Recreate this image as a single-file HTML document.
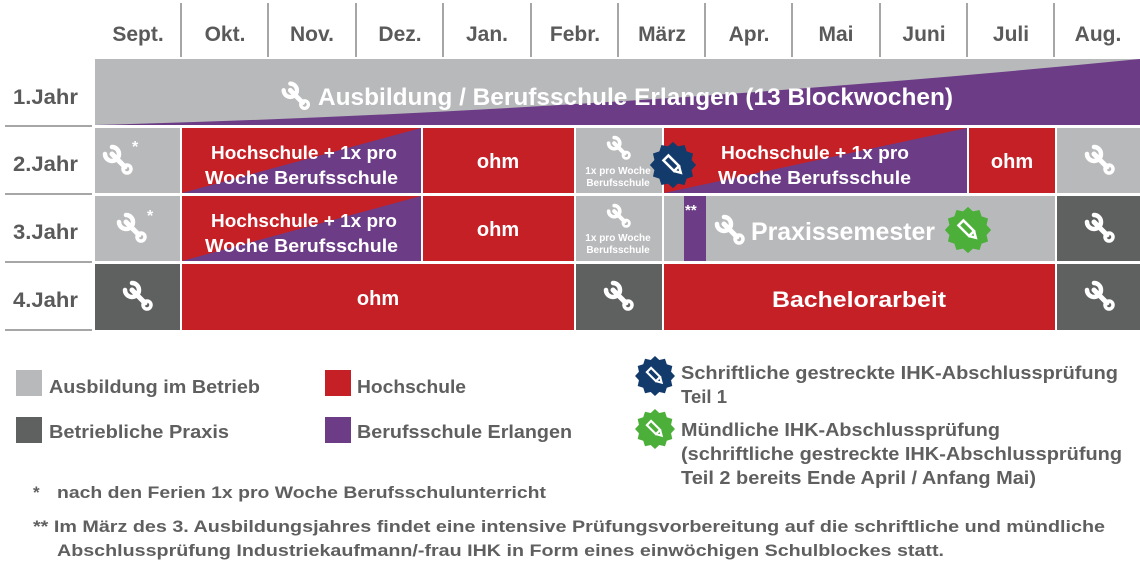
<!DOCTYPE html>
<html><head><meta charset="utf-8"><style>
html,body{margin:0;padding:0;background:#fff;}
svg{display:block;font-family:"Liberation Sans",sans-serif;font-weight:bold;}
</style></head><body>
<svg width="1140" height="580" viewBox="0 0 1140 580" xmlns="http://www.w3.org/2000/svg">
<defs>
<g id="w"><g stroke="#fff" fill="none" stroke-linecap="round"><line x1="-6" y1="-6" x2="7" y2="7" stroke-width="5"/><circle cx="9" cy="9" r="4" stroke-width="3.5"/><path d="M-13,-6 A7,7 0 1 0 -6,-13" stroke-width="4.5"/></g></g>
<polygon id="star" points="21,0 16.9,4.5 18.2,10.5 12.4,12.4 10.5,18.2 4.5,16.9 0,21 -4.5,16.9 -10.5,18.2 -12.4,12.4 -18.2,10.5 -16.9,4.5 -21,0 -16.9,-4.5 -18.2,-10.5 -12.4,-12.4 -10.5,-18.2 -4.5,-16.9 0,-21 4.5,-16.9 10.5,-18.2 12.4,-12.4 18.2,-10.5 16.9,-4.5"/>
<g id="pen"><g transform="rotate(-45)"><rect x="-3.5" y="-10" width="7" height="15" fill="none" stroke="#fff" stroke-width="2.5"/><path d="M-3.5,5 L0,11 L3.5,5" fill="none" stroke="#fff" stroke-width="2.5"/></g></g>
</defs>
<!-- header -->
<g fill="#5a5a5a" font-size="21" text-anchor="middle">
<text x="138" y="41">Sept.</text><text x="225" y="41">Okt.</text><text x="312" y="41">Nov.</text><text x="400" y="41">Dez.</text><text x="487" y="41">Jan.</text><text x="575" y="41">Febr.</text><text x="662" y="41">März</text><text x="749" y="41">Apr.</text><text x="836" y="41">Mai</text><text x="924" y="41">Juni</text><text x="1011" y="41">Juli</text><text x="1098" y="41">Aug.</text>
</g>
<g stroke="#888" stroke-width="1.5">
<line x1="181" y1="3" x2="181" y2="57"/><line x1="268" y1="3" x2="268" y2="57"/><line x1="356" y1="3" x2="356" y2="57"/><line x1="443" y1="3" x2="443" y2="57"/><line x1="531" y1="3" x2="531" y2="57"/><line x1="618" y1="3" x2="618" y2="57"/><line x1="705" y1="3" x2="705" y2="57"/><line x1="792" y1="3" x2="792" y2="57"/><line x1="880" y1="3" x2="880" y2="57"/><line x1="967" y1="3" x2="967" y2="57"/><line x1="1054" y1="3" x2="1054" y2="57"/>
<line x1="5" y1="126" x2="92" y2="126"/><line x1="5" y1="194" x2="92" y2="194"/><line x1="5" y1="262" x2="92" y2="262"/><line x1="5" y1="330" x2="92" y2="330"/>
</g>
<g fill="#5a5a5a" font-size="21">
<text x="13" y="104" textLength="65" lengthAdjust="spacingAndGlyphs">1.Jahr</text><text x="13" y="171" textLength="65" lengthAdjust="spacingAndGlyphs">2.Jahr</text><text x="13" y="239" textLength="65" lengthAdjust="spacingAndGlyphs">3.Jahr</text><text x="13" y="307" textLength="65" lengthAdjust="spacingAndGlyphs">4.Jahr</text>
</g>
<!-- row 1 -->
<rect x="95" y="59" width="1045" height="66" fill="#b8b9bb"/>
<path d="M95,125 Q600,112 1140,59 L1140,125 Z" fill="#6c3c87"/>
<use href="#w" transform="translate(296,96) scale(0.95)"/>
<text x="318" y="105" font-size="24" fill="#fff" textLength="635" lengthAdjust="spacingAndGlyphs">Ausbildung / Berufsschule Erlangen (13 Blockwochen)</text>
<!-- row 2 -->
<rect x="95" y="128" width="85" height="65" fill="#b8b9bb"/>
<use href="#w" transform="translate(118,160)"/><text x="132" y="152" fill="#fff" font-size="16">*</text>
<rect x="182" y="128" width="239" height="65" fill="#c52026"/>
<polygon points="182,193 421,128 421,193" fill="#6c3c87"/>
<text x="211" y="159" fill="#fff" font-size="18" textLength="186" lengthAdjust="spacingAndGlyphs">Hochschule + 1x pro</text>
<text x="205" y="184" fill="#fff" font-size="18" textLength="193" lengthAdjust="spacingAndGlyphs">Woche Berufsschule</text>
<rect x="423" y="128" width="151" height="65" fill="#c52026"/>
<text x="498" y="168" fill="#fff" font-size="20" text-anchor="middle">ohm</text>
<rect x="576" y="128" width="86" height="65" fill="#b8b9bb"/>
<use href="#w" transform="translate(619,148) scale(0.8)"/>
<text x="618" y="174" fill="#fff" font-size="10" text-anchor="middle">1x pro Woche</text><text x="618" y="186" fill="#fff" font-size="10" text-anchor="middle">Berufsschule</text>
<rect x="664" y="128" width="303" height="65" fill="#c52026"/>
<polygon points="664,193 967,128 967,193" fill="#6c3c87"/>
<text x="721" y="159" fill="#fff" font-size="18" textLength="188" lengthAdjust="spacingAndGlyphs">Hochschule + 1x pro</text>
<text x="718" y="184" fill="#fff" font-size="18" textLength="193" lengthAdjust="spacingAndGlyphs">Woche Berufsschule</text>
<rect x="969" y="128" width="86" height="65" fill="#c52026"/>
<text x="1012" y="168" fill="#fff" font-size="20" text-anchor="middle">ohm</text>
<rect x="1057" y="128" width="83" height="65" fill="#b8b9bb"/>
<use href="#w" transform="translate(1100,160)"/>
<use href="#star" transform="translate(673,165) scale(1.1)" fill="#123a6b"/>
<use href="#pen" transform="translate(673,165)"/>
<!-- row 3 -->
<rect x="95" y="196" width="85" height="65" fill="#b8b9bb"/>
<use href="#w" transform="translate(132,228)"/><text x="147" y="221" fill="#fff" font-size="16">*</text>
<rect x="182" y="196" width="239" height="65" fill="#c52026"/>
<polygon points="182,261 421,196 421,261" fill="#6c3c87"/>
<text x="211" y="227" fill="#fff" font-size="18" textLength="186" lengthAdjust="spacingAndGlyphs">Hochschule + 1x pro</text>
<text x="205" y="252" fill="#fff" font-size="18" textLength="193" lengthAdjust="spacingAndGlyphs">Woche Berufsschule</text>
<rect x="423" y="196" width="151" height="65" fill="#c52026"/>
<text x="498" y="236" fill="#fff" font-size="20" text-anchor="middle">ohm</text>
<rect x="576" y="196" width="86" height="65" fill="#b8b9bb"/>
<use href="#w" transform="translate(619,216) scale(0.8)"/>
<text x="618" y="241" fill="#fff" font-size="10" text-anchor="middle">1x pro Woche</text><text x="618" y="253" fill="#fff" font-size="10" text-anchor="middle">Berufsschule</text>
<rect x="664" y="196" width="391" height="65" fill="#b8b9bb"/>
<rect x="684" y="196" width="22" height="65" fill="#6c3c87"/>
<text x="685" y="215" fill="#fff" font-size="15">**</text>
<use href="#w" transform="translate(730,230)"/>
<text x="751" y="240" fill="#fff" font-size="25" textLength="184" lengthAdjust="spacingAndGlyphs">Praxissemester</text>
<use href="#star" transform="translate(968,230) scale(1.1)" fill="#4caf3a"/>
<use href="#pen" transform="translate(968,230)"/>
<rect x="1057" y="196" width="83" height="65" fill="#5f6060"/>
<use href="#w" transform="translate(1100,228)"/>
<!-- row 4 -->
<rect x="95" y="264" width="85" height="66" fill="#5f6060"/>
<use href="#w" transform="translate(138,296)"/>
<rect x="182" y="264" width="392" height="66" fill="#c52026"/>
<text x="378" y="305" fill="#fff" font-size="20" text-anchor="middle">ohm</text>
<rect x="576" y="264" width="86" height="66" fill="#5f6060"/>
<use href="#w" transform="translate(619,296)"/>
<rect x="664" y="264" width="391" height="66" fill="#c52026"/>
<text x="772" y="307" fill="#fff" font-size="22" textLength="174" lengthAdjust="spacingAndGlyphs">Bachelorarbeit</text>
<rect x="1057" y="264" width="83" height="66" fill="#5f6060"/>
<use href="#w" transform="translate(1100,296)"/>
<!-- legend -->
<rect x="16" y="370" width="26" height="26" fill="#b8b9bb"/>
<rect x="16" y="417" width="26" height="26" fill="#5f6060"/>
<rect x="325" y="370" width="26" height="26" fill="#c52026"/>
<rect x="325" y="417" width="26" height="26" fill="#6c3c87"/>
<g fill="#5f5f5f" font-size="18">
<text x="49" y="393" textLength="211" lengthAdjust="spacingAndGlyphs">Ausbildung im Betrieb</text>
<text x="49" y="438" textLength="180" lengthAdjust="spacingAndGlyphs">Betriebliche Praxis</text>
<text x="357" y="393" textLength="109" lengthAdjust="spacingAndGlyphs">Hochschule</text>
<text x="357" y="438" textLength="215" lengthAdjust="spacingAndGlyphs">Berufsschule Erlangen</text>
<text x="681" y="379" textLength="437" lengthAdjust="spacingAndGlyphs">Schriftliche gestreckte IHK-Abschlussprüfung</text>
<text x="681" y="403" textLength="46" lengthAdjust="spacingAndGlyphs">Teil 1</text>
<text x="681" y="436" textLength="319" lengthAdjust="spacingAndGlyphs">Mündliche IHK-Abschlussprüfung</text>
<text x="681" y="460" textLength="441" lengthAdjust="spacingAndGlyphs">(schriftliche gestreckte IHK-Abschlussprüfung</text>
<text x="681" y="484" textLength="355" lengthAdjust="spacingAndGlyphs">Teil 2 bereits Ende April / Anfang Mai)</text>
</g>
<use href="#star" transform="translate(655,376) scale(0.95)" fill="#123a6b"/>
<use href="#pen" transform="translate(655,376) scale(0.85)"/>
<use href="#star" transform="translate(655,429) scale(0.95)" fill="#4caf3a"/>
<use href="#pen" transform="translate(655,429) scale(0.85)"/>
<g fill="#5f5f5f" font-size="17">
<text x="33" y="498">*</text>
<text x="57" y="498" textLength="489" lengthAdjust="spacingAndGlyphs">nach den Ferien 1x pro Woche Berufsschulunterricht</text>
<text x="33" y="532" textLength="1072" lengthAdjust="spacingAndGlyphs">** Im März des 3. Ausbildungsjahres findet eine intensive Prüfungsvorbereitung auf die schriftliche und mündliche</text>
<text x="57" y="556" textLength="887" lengthAdjust="spacingAndGlyphs">Abschlussprüfung Industriekaufmann/-frau IHK in Form eines einwöchigen Schulblockes statt.</text>
</g>
</svg>
</body></html>
